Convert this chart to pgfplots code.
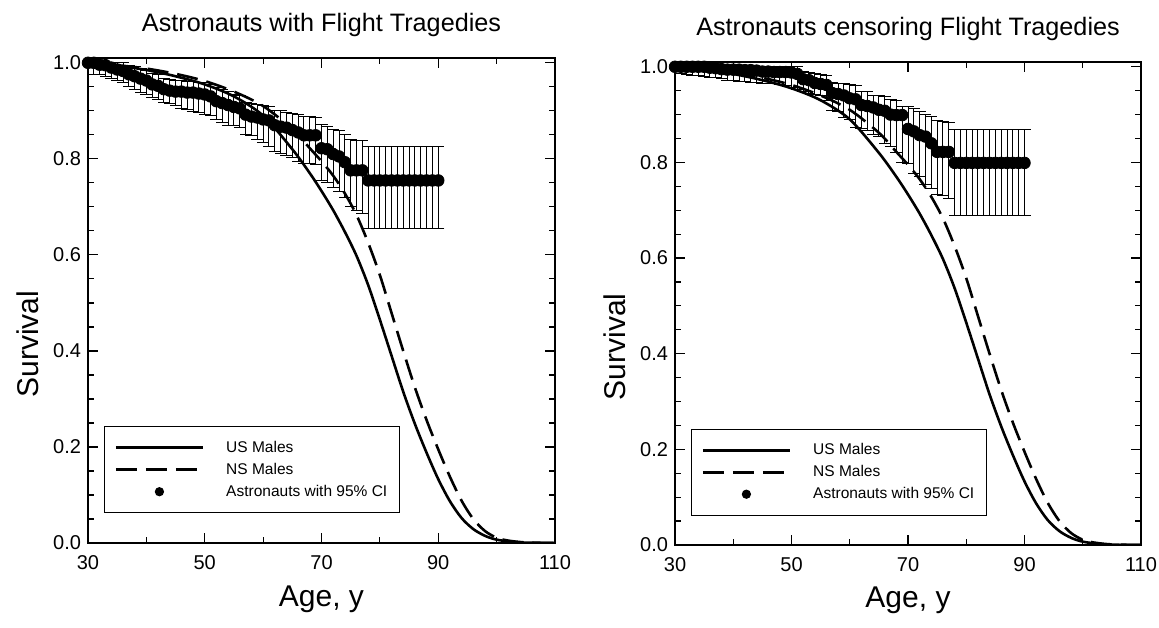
\documentclass[border=0pt]{standalone}
\usepackage{fontspec}
\setmainfont{Liberation Sans}
\usepackage{pgfplots}
\usepackage{pgfplotstable}
\pgfplotsset{compat=1.18}

\pgfplotstableread{
x s
30 1.000
35 0.994
40 0.985
45 0.972
50 0.955
55 0.930
60 0.890
65 0.820
68 0.770
70 0.733
72 0.693
74 0.648
76 0.598
78 0.537
80 0.465
82 0.390
84 0.315
86 0.248
88 0.188
90 0.133
92 0.087
94 0.052
96 0.029
98 0.015
100 0.007
103 0.002
106 0.0005
110 0.0
}\usmales

\pgfplotstableread{
x s
30 1.000
35 0.995
40 0.988
45 0.977
50 0.962
55 0.940
60 0.910
65 0.862
68 0.822
70 0.795
72 0.765
74 0.728
76 0.683
78 0.625
80 0.558
82 0.479
84 0.400
86 0.324
88 0.256
90 0.195
92 0.138
94 0.088
96 0.050
98 0.025
100 0.011
102 0.005
105 0.0012
110 0.0
}\nsmales

\pgfplotstableread{
x y lo hi
30 1.000 1.000 1.000
31 1.000 0.976 1.000
32 0.996 0.975 1.000
33 0.995 0.972 1.000
34 0.990 0.968 1.000
35 0.986 0.963 1.000
36 0.983 0.958 1.000
37 0.976 0.950 0.995
38 0.972 0.944 0.992
39 0.967 0.938 0.988
40 0.963 0.935 0.985
41 0.955 0.928 0.978
42 0.952 0.924 0.975
43 0.945 0.918 0.968
44 0.942 0.915 0.965
45 0.940 0.912 0.963
46 0.940 0.905 0.963
47 0.938 0.902 0.962
48 0.938 0.898 0.962
49 0.936 0.896 0.960
50 0.934 0.893 0.958
51 0.930 0.890 0.955
52 0.920 0.882 0.948
53 0.916 0.876 0.945
54 0.912 0.870 0.940
55 0.908 0.869 0.934
56 0.905 0.866 0.932
57 0.892 0.850 0.918
58 0.888 0.848 0.916
59 0.886 0.840 0.914
60 0.882 0.835 0.911
61 0.880 0.825 0.910
62 0.870 0.816 0.900
63 0.867 0.812 0.900
64 0.865 0.806 0.897
65 0.860 0.802 0.895
66 0.855 0.795 0.892
67 0.849 0.790 0.888
68 0.849 0.790 0.888
69 0.849 0.788 0.886
70 0.822 0.755 0.871
71 0.820 0.750 0.868
72 0.810 0.741 0.861
73 0.805 0.733 0.858
74 0.793 0.720 0.851
75 0.776 0.700 0.840
76 0.776 0.692 0.838
77 0.776 0.687 0.838
78 0.755 0.655 0.826
79 0.755 0.655 0.826
80 0.755 0.655 0.826
81 0.755 0.655 0.826
82 0.755 0.655 0.826
83 0.755 0.655 0.826
84 0.755 0.655 0.826
85 0.755 0.655 0.826
86 0.755 0.655 0.826
87 0.755 0.655 0.826
88 0.755 0.655 0.826
89 0.755 0.655 0.826
90 0.755 0.655 0.826
}\leftdata

\pgfplotstableread{
x y lo hi
30 1.000 1.000 1.000
31 1.000 0.985 1.000
32 1.000 0.983 1.000
33 1.000 0.982 1.000
34 1.000 0.981 1.000
35 1.000 0.980 1.000
36 0.998 0.978 1.000
37 0.997 0.977 1.000
38 0.995 0.975 1.000
39 0.994 0.972 1.000
40 0.994 0.971 1.000
41 0.994 0.970 1.000
42 0.993 0.969 1.000
43 0.993 0.968 1.000
44 0.992 0.967 1.000
45 0.990 0.966 1.000
46 0.990 0.965 1.000
47 0.989 0.964 1.000
48 0.989 0.962 1.000
49 0.989 0.960 1.000
50 0.988 0.957 1.000
51 0.985 0.952 1.000
52 0.974 0.948 0.990
53 0.972 0.945 0.988
54 0.966 0.943 0.985
55 0.964 0.940 0.983
56 0.962 0.930 0.981
57 0.945 0.909 0.968
58 0.943 0.906 0.966
59 0.940 0.893 0.965
60 0.934 0.890 0.962
61 0.932 0.872 0.960
62 0.920 0.870 0.948
63 0.918 0.866 0.948
64 0.915 0.858 0.940
65 0.910 0.855 0.940
66 0.908 0.840 0.937
67 0.900 0.834 0.932
68 0.899 0.820 0.930
69 0.899 0.800 0.917
70 0.870 0.797 0.917
71 0.865 0.777 0.912
72 0.857 0.770 0.906
73 0.854 0.754 0.900
74 0.840 0.745 0.897
75 0.822 0.732 0.887
76 0.822 0.730 0.885
77 0.822 0.725 0.883
78 0.799 0.690 0.869
79 0.799 0.690 0.869
80 0.799 0.690 0.869
81 0.799 0.690 0.869
82 0.799 0.690 0.869
83 0.799 0.690 0.869
84 0.799 0.690 0.869
85 0.799 0.690 0.869
86 0.799 0.690 0.869
87 0.799 0.690 0.869
88 0.799 0.690 0.869
89 0.799 0.690 0.869
90 0.799 0.690 0.869
}\rightdata

\pgfplotsset{
  survaxis/.style={
    scale only axis,
    anchor=south west,
    xmin=30, xmax=110, ymin=0, ymax=1.01,
    xtick={30,50,70,90,110},
    minor xtick={40,60,80,100},
    ytick={0,0.2,0.4,0.6,0.8,1.0},
    minor y tick num=3,
    tick align=inside, tick pos=both,
    major tick length=5pt, minor tick length=3pt,
    tick style={black, line width=0.6pt},
    axis line style={line width=0.6pt},
    /pgf/number format/assume math mode=true,
    yticklabel style={/pgf/number format/.cd, fixed, fixed zerofill, precision=1},
    xticklabel style={yshift=-2.5pt},
    tick label style={font=\fontsize{10}{12}\selectfont},
    xlabel={Age, y}, ylabel={Survival},
    label style={font=\fontsize{15}{18}\selectfont},
    xlabel style={at={(axis description cs:0.5,-0.13)}, anchor=base},
    ylabel style={at={(axis description cs:-0.13,0.41)}, anchor=center},
    title style={font=\fontsize{12.6}{15}\selectfont, at={(axis description cs:0.5,1)}, anchor=base, yshift=7.3pt},
    legend cell align=left,
    legend style={at={(axis description cs:0.0343,0.241)}, anchor=north west,
      draw=black, line width=0.6pt, fill=white,
      inner xsep=5pt, inner ysep=5.75pt,
      font=\fontsize{7.75}{9}\selectfont,
      row sep=1.5pt, column sep=10pt,
      nodes={inner sep=1pt, text height=6pt, text depth=1.5pt}},
  },
  uscurve/.style={black, line width=1.3pt, smooth},
  nscurve/.style={black, line width=1.3pt, smooth, dash pattern=on 10.5pt off 4.5pt},
  astro/.style={black, only marks, mark=*, mark size=2.9pt,
    mark options={fill=black, draw=black},
    error bars/y dir=both, error bars/y explicit,
    error bars/error mark=-,
    error bars/error bar style={line width=0.5pt, black},
    error bars/error mark options={rotate=90, black, line width=0.5pt, mark size=3pt}},
  legline/.style={legend image code/.code={\draw[#1] (0pt,0pt) -- (43.5pt,0pt);}},
  legdot/.style={legend image code/.code={\path[draw=none] (0pt,0pt) -- (43.5pt,0pt); \fill[black, mark=*, mark size=2pt, mark options={fill=black, draw=black}] plot coordinates {(21.75pt,0pt)};}},
}

\newcommand{\legendimages}{%
  \addlegendimage{black, line width=1.3pt, legline}
  \addlegendentry{US Males}
  \addlegendimage{black, line width=1.3pt, dash pattern=on 10.5pt off 4.5pt, legline}
  \addlegendentry{NS Males}
  \addlegendimage{black, legdot}
  \addlegendentry{Astronauts with 95\% CI}
}

\begin{document}
\begin{tikzpicture}
\useasboundingbox (0pt,0pt) rectangle (579.5pt,313.5pt);
\begin{axis}[survaxis, at={(44pt,42pt)}, width=233.5pt, height=242.5pt,
  title={Astronauts with Flight Tragedies}]
  \legendimages
  \addplot[uscurve, forget plot] table[x=x, y=s] {\usmales};
  \addplot[nscurve, forget plot] table[x=x, y=s] {\nsmales};
  \addplot[forget plot, astro] table[x=x, y=y,
    y error plus expr=\thisrow{hi}-\thisrow{y},
    y error minus expr=\thisrow{y}-\thisrow{lo}] {\leftdata};
\end{axis}
\begin{axis}[survaxis, at={(337.5pt,41pt)}, width=233pt, height=241.5pt,
  title={Astronauts censoring Flight Tragedies}]
  \legendimages
  \addplot[uscurve, forget plot] table[x=x, y=s] {\usmales};
  \addplot[nscurve, forget plot] table[x=x, y=s] {\nsmales};
  \addplot[forget plot, astro] table[x=x, y=y,
    y error plus expr=\thisrow{hi}-\thisrow{y},
    y error minus expr=\thisrow{y}-\thisrow{lo}] {\rightdata};
\end{axis}
\end{tikzpicture}
\end{document}
